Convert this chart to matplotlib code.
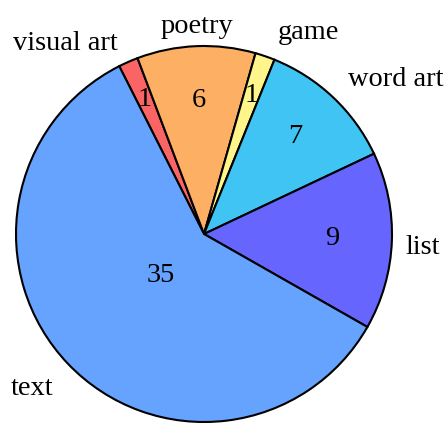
import numpy as np
import matplotlib
matplotlib.use("Agg")
import matplotlib.pyplot as plt

categories = ["visual art", "poetry", "game", "word art", "list", "text"]
values = [1, 6, 1, 7, 9, 35]
colors = ["#fa6464", "#fdb064", "#fff58a", "#40c4f4", "#6666ff", "#66a3ff"]

# styling / placement (not data)
num_radius = [0.78, 0.71, 0.78, 0.71, 0.68, 0.32]
label_ha = ["right", "center", "left", "left", "left", "right"]
label_offset_pt = [(-2, -3.8), (1.2, -4.0), (5, -0.6), (1.5, -1.7), (-4, -8.8), (-0.9, -13.2)]

plt.rcParams["font.family"] = ["Liberation Serif", "DejaVu Serif"]
FS = 20.4

fig = plt.figure(figsize=(4.47, 4.23), dpi=100)
ax = fig.add_axes([0, 0, 1, 1])
wedges, _ = ax.pie(values, colors=colors, startangle=116.8, counterclock=False,
                   wedgeprops=dict(edgecolor="black", linewidth=1.5))

for w, cat, v, rr, ha, off in zip(wedges, categories, values, num_radius, label_ha, label_offset_pt):
    mid = np.deg2rad((w.theta1 + w.theta2) / 2)
    ax.text(rr * np.cos(mid), rr * np.sin(mid), str(v), ha="center", va="center", fontsize=FS)
    ax.annotate(cat, xy=(1.1 * np.cos(mid), 1.1 * np.sin(mid)), xytext=off,
                textcoords="offset points", ha=ha, va="baseline", fontsize=FS)

R = 188.0
cx, cy = 204.0, 234.0
ax.set_aspect("auto")
ax.set_xlim(-cx / R, (447 - cx) / R)
ax.set_ylim(-(423 - cy) / R, cy / R)
ax.axis("off")
fig.savefig("out.png", dpi=100)
